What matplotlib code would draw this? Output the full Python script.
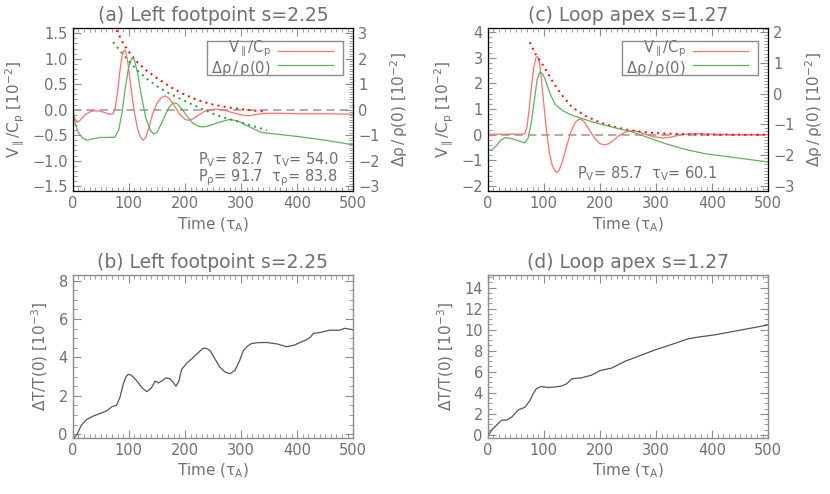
import matplotlib
matplotlib.use("Agg")
import matplotlib.pyplot as plt
from matplotlib.ticker import MultipleLocator, FuncFormatter

plt.rcParams['font.family'] = ['DejaVu Sans']
plt.rcParams['mathtext.default'] = 'regular'

GREY = '#707070'
AXC = '#8c8c8c'
RED = '#ff7070'
GREEN = '#5fb05f'

# ---- panel (a): left footpoint, velocity [1e-2] and density [1e-2]
a_vel_t = [0, 3, 8, 14, 22, 31, 40, 49, 58, 66, 72, 76, 80, 84, 88, 91, 93, 95, 98, 102,
           106, 110, 115, 120, 125, 130, 136, 142, 150, 158, 165, 172, 180, 190, 200, 206,
           215, 225, 235, 245, 256, 270, 285, 300, 313, 330, 346, 370, 400, 450, 500]
a_vel = [0.0, -0.15, -0.25, -0.2, -0.1, -0.04, -0.02, -0.03, -0.06, -0.09, -0.08, 0.05, 0.35,
         0.75, 1.05, 1.15, 1.17, 1.12, 0.95, 0.6, 0.25, -0.05, -0.35, -0.52, -0.6, -0.55,
         -0.35, -0.1, 0.12, 0.24, 0.27, 0.22, 0.1, -0.08, -0.19, -0.21, -0.18, -0.1, -0.03,
         0.0, 0.01, -0.01, -0.06, -0.1, -0.12, -0.09, -0.07, -0.07, -0.08, -0.08, -0.09]
a_den_t = [0, 4, 10, 18, 26, 35, 49, 62, 75, 82, 88, 94, 100, 106, 110, 116, 122, 130,
           138, 144, 150, 158, 165, 172, 179, 186, 195, 205, 215, 225, 233, 245, 260, 280,
           295, 310, 325, 337, 363, 400, 450, 500]
a_den = [-0.05, -0.5, -0.9, -1.12, -1.2, -1.15, -1.09, -1.09, -1.08, -0.8, -0.1, 0.9, 1.7,
         2.05, 1.95, 1.4, 0.6, -0.3, -0.8, -0.95, -0.9, -0.55, -0.2, 0.1, 0.27, 0.24, 0.02,
         -0.3, -0.55, -0.66, -0.68, -0.62, -0.5, -0.38, -0.45, -0.62, -0.78, -0.9, -0.96,
         -1.05, -1.2, -1.38]
a_vfit_t = [78, 90, 100, 115, 130, 150, 175, 200, 225, 250, 275, 300, 325, 345]
a_vfit = [1.56, 1.3, 1.14, 0.93, 0.78, 0.62, 0.44, 0.29, 0.18, 0.10, 0.05, 0.01, -0.02, -0.04]
a_dfit_t = [72, 85, 100, 115, 130, 150, 175, 200, 225, 250, 275, 300, 325, 346]
a_dfit = [2.65, 2.3, 1.9, 1.55, 1.25, 0.92, 0.6, 0.34, 0.08, -0.16, -0.35, -0.5, -0.67, -0.8]

# ---- panel (c): loop apex
c_vel_t = [0, 20, 40, 60, 66, 70, 74, 78, 82, 86, 89, 92, 95, 100, 105, 110, 115, 120,
           123, 127, 133, 140, 148, 156, 163, 166, 172, 180, 190, 200, 208, 216, 225, 235,
           245, 257, 268, 280, 295, 313, 330, 346, 370, 400, 450, 500]
c_vel = [0.02, 0.02, 0.02, 0.02, 0.04, 0.3, 1.0, 1.9, 2.6, 3.0, 3.05, 2.85, 2.3, 1.2, 0.1,
         -0.7, -1.2, -1.42, -1.47, -1.4, -1.05, -0.5, 0.1, 0.48, 0.61, 0.6, 0.5, 0.22,
         -0.12, -0.35, -0.4, -0.35, -0.2, -0.02, 0.1, 0.16, 0.12, 0.02, -0.08, -0.13, -0.08,
         0.01, 0.04, 0.02, 0.0, 0.0]
c_den_t = [0, 7, 15, 23, 31, 40, 48, 58, 66, 72, 78, 84, 88, 93, 97, 102, 110, 120, 135,
           150, 175, 197, 225, 257, 285, 316, 350, 387, 450, 500]
c_den = [-1.81, -1.84, -1.7, -1.52, -1.43, -1.45, -1.49, -1.55, -1.6, -1.45, -0.9, -0.1,
         0.45, 0.7, 0.66, 0.49, 0.05, -0.35, -0.57, -0.7, -0.85, -0.97, -1.1, -1.24, -1.42,
         -1.62, -1.8, -1.95, -2.1, -2.22]
c_vfit_t = [75, 85, 100, 115, 130, 150, 175, 200, 225, 250, 275, 300, 350, 400, 450, 500]
c_vfit = [3.6, 3.15, 2.66, 2.1, 1.6, 1.08, 0.72, 0.48, 0.31, 0.19, 0.11, 0.06, 0.02, 0.0, 0.0, 0.0]

# ---- panels (b),(d): temperature [1e-3]
b_t = [0, 2, 8, 15, 25, 37, 49, 61, 70, 78, 84, 90, 95, 99, 104, 108, 115, 124, 132, 140,
       147, 153, 160, 166, 173, 179, 184, 189, 194, 203, 212, 222, 230, 234, 240, 245, 252,
       262, 271, 280, 289, 297, 304, 312, 319, 330, 346, 365, 381, 395, 405, 415, 423, 429,
       441, 458, 476, 485, 500]
b_T = [-0.2, -0.2, 0.0, 0.45, 0.77, 0.95, 1.08, 1.22, 1.43, 1.51, 1.9, 2.6, 3.0, 3.12,
       3.08, 2.98, 2.75, 2.4, 2.22, 2.4, 2.77, 2.67, 2.8, 2.93, 2.89, 2.7, 2.5, 2.75, 3.36,
       3.7, 3.92, 4.2, 4.42, 4.49, 4.45, 4.35, 4.0, 3.5, 3.25, 3.15, 3.32, 3.8, 4.35, 4.6,
       4.73, 4.77, 4.78, 4.7, 4.56, 4.64, 4.78, 4.9, 5.04, 5.25, 5.3, 5.42, 5.42, 5.52, 5.44]
d_t = [0, 1, 7, 16, 25, 34, 43, 55, 66, 75, 81, 87, 95, 108, 120, 132, 141, 150, 167, 185,
       200, 221, 245, 270, 297, 334, 357, 375, 404, 450, 500]
d_T = [-0.15, -0.1, 0.46, 0.93, 1.4, 1.4, 1.7, 2.4, 2.6, 3.25, 3.9, 4.4, 4.6, 4.5, 4.55,
       4.64, 4.86, 5.33, 5.42, 5.67, 6.1, 6.35, 7.0, 7.5, 8.05, 8.7, 9.13, 9.29, 9.5, 9.95,
       10.45]

fig = plt.figure(figsize=(8.3, 4.94), dpi=100)

AX_W, AX_H = 0.338, 0.33
ax_a = fig.add_axes([0.0876, 0.613, AX_W, AX_H])
ax_c = fig.add_axes([0.5876, 0.613, AX_W, AX_H])
ax_b = fig.add_axes([0.0876, 0.1134, AX_W, AX_H])
ax_d = fig.add_axes([0.5876, 0.1134, AX_W, AX_H])

minus = lambda s: s.replace('-', '\u2212')
fmt1 = FuncFormatter(lambda v, p: minus('%.1f' % v))
fmt0 = FuncFormatter(lambda v, p: minus('%d' % round(v)))


def style(ax, right=True):
    for s in ax.spines.values():
        s.set_color(AXC)
        s.set_linewidth(1.0)
    ax.tick_params(which='both', direction='in', colors=AXC, labelcolor=GREY,
                   labelsize=10.5, top=True, right=right)
    ax.tick_params(which='major', length=6, width=0.8)
    ax.tick_params(which='minor', length=3, width=0.6)
    ax.set_xlim(0, 500)
    ax.xaxis.set_major_locator(MultipleLocator(100))
    ax.xaxis.set_minor_locator(MultipleLocator(10))
    ax.xaxis.set_major_formatter(fmt0)
    ax.set_xlabel(r'Time ($\tau_A$)', color=GREY, fontsize=11, labelpad=3)


def style_right(ax):
    ax.yaxis.set_major_locator(MultipleLocator(1))
    ax.yaxis.set_minor_locator(MultipleLocator(0.1))
    ax.yaxis.set_major_formatter(fmt0)
    ax.tick_params(which='both', direction='in', colors=AXC, labelcolor=GREY, labelsize=10.5)
    ax.tick_params(which='major', length=6, width=0.8)
    ax.tick_params(which='minor', length=3, width=0.6)
    ax.set_ylabel(r'$\Delta\rho\,/\,\rho(0)$ [10$^{-2}$]', color=GREY, fontsize=11, labelpad=6)


def legend_box(ax):
    ax.add_patch(plt.Rectangle((0.479, 0.712), 0.485, 0.208, transform=ax.transAxes,
                               fill=False, edgecolor=AXC, lw=1.0, zorder=5))
    ax.text(0.705, 0.815, '$V_{\\parallel}/C_p$\n$\\Delta\\rho\\,/\\,\\rho(0)$',
            transform=ax.transAxes, ha='right', va='center', multialignment='right',
            color=GREY, fontsize=10.5, linespacing=0.95)
    ax.plot([0.733, 0.929], [0.859, 0.859], color=RED, lw=0.9, transform=ax.transAxes)
    ax.plot([0.733, 0.929], [0.773, 0.773], color=GREEN, lw=0.9, transform=ax.transAxes)


# (a)
style(ax_a, right=False)
ax_a.set_ylim(-1.6, 1.6)
ax_a.yaxis.set_major_locator(MultipleLocator(0.5))
ax_a.yaxis.set_minor_locator(MultipleLocator(0.1))
ax_a.yaxis.set_major_formatter(fmt1)
ax_a.axhline(0, color='#a0a0a0', lw=1.2, ls=(0, (5, 3)))
ax_a.plot(a_vel_t, a_vel, color=RED, lw=0.9)
ax_a.plot(a_vfit_t, a_vfit, color='red', lw=1.4, ls=(0, (1, 2.2)))
ax_a.set_ylabel(r'$V_{\parallel}/C_p$ [10$^{-2}$]', color=GREY, fontsize=11, labelpad=4)
ax_a.set_title('(a) Left footpoint s=2.25', color=GREY, fontsize=13.5, pad=5)
ra = ax_a.twinx()
ra.set_ylim(-3.2, 3.2)
ra.plot(a_den_t, a_den, color=GREEN, lw=0.9)
ra.plot(a_dfit_t, a_dfit, color='#2a9a2a', lw=1.4, ls=(0, (1, 2.2)))
style_right(ra)
legend_box(ax_a)
ax_a.text(0.95, 0.135, 'P$_V$= 82.7  $\\tau_V$= 54.0\nP$_\\rho$= 91.7  $\\tau_\\rho$= 83.8',
          transform=ax_a.transAxes, ha='right', va='center', multialignment='left',
          color=GREY, fontsize=10.5, linespacing=0.95)

# (c)
style(ax_c, right=False)
ax_c.set_ylim(-2.2, 4.15)
ax_c.yaxis.set_major_locator(MultipleLocator(1))
ax_c.yaxis.set_minor_locator(MultipleLocator(0.2))
ax_c.yaxis.set_major_formatter(fmt0)
ax_c.axhline(0, color='#a0a0a0', lw=1.2, ls=(0, (5, 3)))
ax_c.plot(c_vel_t, c_vel, color=RED, lw=0.9)
ax_c.plot(c_vfit_t, c_vfit, color='red', lw=1.4, ls=(0, (1, 2.2)))
ax_c.set_ylabel(r'$V_{\parallel}/C_p$ [10$^{-2}$]', color=GREY, fontsize=11, labelpad=4)
ax_c.set_title('(c) Loop apex s=1.27', color=GREY, fontsize=13.5, pad=5)
rc = ax_c.twinx()
rc.set_ylim(-2.2 * 5 / 6 - 4 / 3, 4.15 * 5 / 6 - 4 / 3)
rc.plot(c_den_t, c_den, color=GREEN, lw=0.9)
style_right(rc)
legend_box(ax_c)
ax_c.text(0.82, 0.11, r'P$_V$= 85.7  $\tau_V$= 60.1', transform=ax_c.transAxes,
          ha='right', va='center', color=GREY, fontsize=10.5)

# (b)
style(ax_b)
ax_b.set_ylim(-0.2, 8.3)
ax_b.yaxis.set_major_locator(MultipleLocator(2))
ax_b.yaxis.set_minor_locator(MultipleLocator(0.5))
ax_b.yaxis.set_major_formatter(fmt0)
ax_b.plot(b_t, b_T, color='#555555', lw=0.9)
ax_b.set_ylabel(r'$\Delta$T/T(0) [10$^{-3}$]', color=GREY, fontsize=11, labelpad=6)
ax_b.set_title('(b) Left footpoint s=2.25', color=GREY, fontsize=13.5, pad=5)

# (d)
style(ax_d)
ax_d.set_ylim(-0.3, 15.2)
ax_d.yaxis.set_major_locator(MultipleLocator(2))
ax_d.yaxis.set_minor_locator(MultipleLocator(0.5))
ax_d.yaxis.set_major_formatter(fmt0)
ax_d.plot(d_t, d_T, color='#555555', lw=0.9)
ax_d.set_ylabel(r'$\Delta$T/T(0) [10$^{-3}$]', color=GREY, fontsize=11, labelpad=6)
ax_d.set_title('(d) Loop apex s=1.27', color=GREY, fontsize=13.5, pad=5)

fig.savefig('out.png', dpi=100)
